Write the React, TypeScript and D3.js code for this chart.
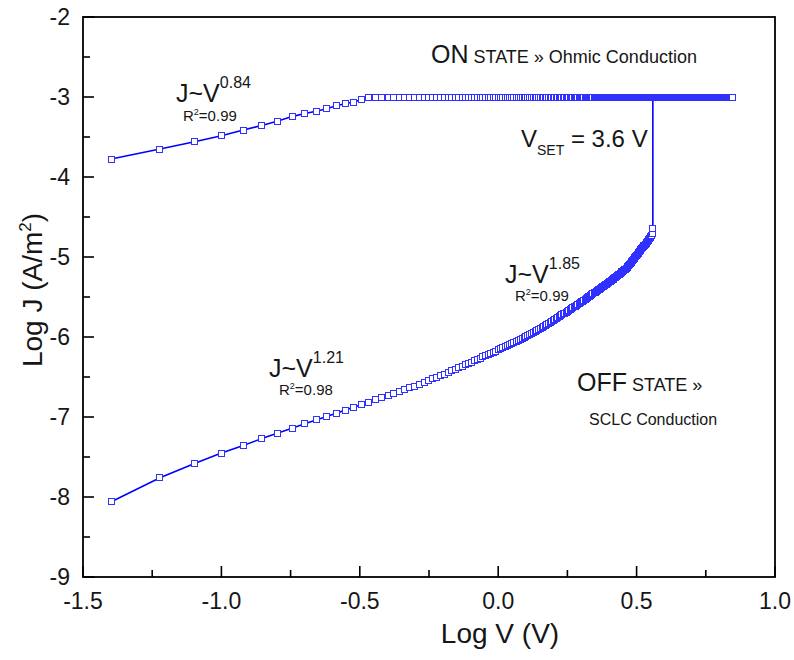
import React from "react";
import * as d3 from "d3";

// Voltage sweep (V)
const sweepV = [
  0.04,0.06,0.08,0.10,0.12,0.14,0.16,0.18,0.20,0.22,0.24,0.26,0.28,0.30,0.32,0.34,0.36,0.38,0.40,0.42,0.44,0.46,0.48,0.50,0.52,0.54,0.56,0.58,0.60,0.62,0.64,0.66,0.68,0.70,0.72,0.74,0.76,0.78,0.80,0.82,0.84,0.86,0.88,0.90,0.92,0.94,0.96,0.98,
  1.00,1.02,1.04,1.06,1.08,1.10,1.12,1.14,1.16,1.18,1.20,1.22,1.24,1.26,1.28,1.30,1.32,1.34,1.36,1.38,1.40,1.42,1.44,1.46,1.48,1.50,1.52,1.54,1.56,1.58,1.60,1.62,1.64,1.66,1.68,1.70,1.72,1.74,1.76,1.78,1.80,1.82,1.84,1.86,1.88,1.90,1.92,1.94,1.96,1.98,
  2.00,2.02,2.04,2.06,2.08,2.10,2.12,2.14,2.16,2.18,2.20,2.22,2.24,2.26,2.28,2.30,2.32,2.34,2.36,2.38,2.40,2.42,2.44,2.46,2.48,2.50,2.52,2.54,2.56,2.58,2.60,2.62,2.64,2.66,2.68,2.70,2.72,2.74,2.76,2.78,2.80,2.82,2.84,2.86,2.88,2.90,2.92,2.94,2.96,2.98,
  3.00,3.02,3.04,3.06,3.08,3.10,3.12,3.14,3.16,3.18,3.20,3.22,3.24,3.26,3.28,3.30,3.32,3.34,3.36,3.38,3.40,3.42,3.44,3.46,3.48,3.50,3.52,3.54,3.56,3.58,3.60,3.62,3.64,3.66,3.68,3.70,3.72,3.74,3.76,3.78,3.80,3.82,3.84,3.86,3.88,3.90,3.92,3.94,3.96,3.98,
  4.00,4.02,4.04,4.06,4.08,4.10,4.12,4.14,4.16,4.18,4.20,4.22,4.24,4.26,4.28,4.30,4.32,4.34,4.36,4.38,4.40,4.42,4.44,4.46,4.48,4.50,4.52,4.54,4.56,4.58,4.60,4.62,4.64,4.66,4.68,4.70,4.72,4.74,4.76,4.78,4.80,4.82,4.84,4.86,4.88,4.90,4.92,4.94,4.96,4.98,
  5.00,5.02,5.04,5.06,5.08,5.10,5.12,5.14,5.16,5.18,5.20,5.22,5.24,5.26,5.28,5.30,5.32,5.34,5.36,5.38,5.40,5.42,5.44,5.46,5.48,5.50,5.52,5.54,5.56,5.58,5.60,5.62,5.64,5.66,5.68,5.70,5.72,5.74,5.76,5.78,5.80,5.82,5.84,5.86,5.88,5.90,5.92,5.94,5.96,5.98,
  6.00,6.02,6.04,6.06,6.08,6.10,6.12,6.14,6.16,6.18,6.20,6.22,6.24,6.26,6.28,6.30,6.32,6.34,6.36,6.38,6.40,6.42,6.44,6.46,6.48,6.50,6.52,6.54,6.56,6.58,6.60,6.62,6.64,6.66,6.68,6.70,6.72,6.74,6.76,6.78,6.80,6.82,6.84,6.86,6.88,6.90,6.92,6.94,6.96,6.98,
  7.00,
];

// OFF state: log J (A/m^2) for the sweep from 0.04 V to 3.62 V
const offLogJ = [
  -8.06,-7.76,-7.58,-7.45,-7.355,-7.27,-7.2,-7.14,-7.085,-7.037,-6.993,-6.952,-6.914,-6.879,-6.846,-6.815,-6.786,-6.759,
  -6.734,-6.708,-6.682,-6.658,-6.635,-6.613,
  -6.588,-6.565,-6.543,-6.522,-6.502,-6.482,-6.463,
  -6.443,-6.423,-6.403,-6.384,-6.366,-6.348,-6.33,-6.313,-6.296,-6.28,-6.264,
  -6.248,-6.233,-6.218,-6.204,-6.189,-6.175,-6.162,-6.148,-6.135,-6.122,-6.11,-6.097,-6.085,
  -6.072,-6.058,-6.044,-6.03,-6.016,-6.003,-5.99,-5.977,-5.964,-5.951,-5.939,-5.927,-5.915,-5.903,-5.891,-5.88,-5.868,-5.857,
  -5.845,-5.832,-5.819,-5.806,-5.794,-5.782,-5.769,-5.758,-5.746,-5.734,-5.722,-5.711,-5.7,-5.688,-5.677,-5.666,-5.656,-5.645,-5.634,-5.624,-5.614,-5.603,-5.593,-5.583,
  -5.573,-5.562,-5.551,-5.541,-5.53,-5.52,-5.509,-5.499,-5.489,-5.479,-5.469,-5.459,-5.449,-5.44,-5.43,-5.42,-5.411,-5.402,-5.392,-5.383,-5.374,-5.365,-5.356,-5.347,-5.338,-5.329,-5.321,-5.312,-5.304,-5.295,-5.287,
  -5.278,-5.269,-5.26,-5.25,-5.241,-5.232,-5.222,-5.213,-5.205,-5.196,-5.187,-5.178,-5.169,-5.16,-5.152,
  -5.14,-5.127,-5.114,-5.101,-5.089,-5.076,-5.063,-5.051,-5.039,-5.026,-5.014,-5.002,-4.99,-4.978,-4.966,-4.955,-4.943,-4.931,
  -4.919,-4.907,-4.896,-4.884,-4.873,-4.861,-4.85,-4.838,-4.827,-4.816,-4.805,-4.794,-4.783,-4.772,-4.76,-4.745,-4.725,-4.7,-4.64,
];

// ON state: log J (A/m^2) for the sweep from 0.04 V to 7.00 V
const onLogJ = [
  -3.775,-3.65,-3.56,-3.484,-3.413,-3.355,-3.3,-3.245,-3.206,-3.178,-3.146,-3.11,-3.084,-3.063,-3.034,-3.003,
  -3,-3,-3,-3,-3,-3,-3,-3,-3,-3,-3,-3,-3,-3,-3,-3,-3,-3,-3,-3,-3,-3,-3,-3,-3,
  -3,-3,-3,-3,-3,-3,-3,-3,-3,-3,-3,-3,-3,-3,-3,-3,-3,-3,-3,-3,-3,-3,-3,-3,-3,
  -3,-3,-3,-3,-3,-3,-3,-3,-3,-3,-3,-3,-3,-3,-3,-3,-3,-3,-3,-3,-3,-3,-3,-3,-3,
  -3,-3,-3,-3,-3,-3,-3,-3,-3,-3,-3,-3,-3,-3,-3,-3,-3,-3,-3,-3,-3,-3,-3,-3,-3,
  -3,-3,-3,-3,-3,-3,-3,-3,-3,-3,-3,-3,-3,-3,-3,-3,-3,-3,-3,-3,-3,-3,-3,-3,-3,
  -3,-3,-3,-3,-3,-3,-3,-3,-3,-3,-3,-3,-3,-3,-3,-3,-3,-3,-3,-3,-3,-3,-3,-3,-3,
  -3,-3,-3,-3,-3,-3,-3,-3,-3,-3,-3,-3,-3,-3,-3,-3,-3,-3,-3,-3,-3,-3,-3,-3,-3,
  -3,-3,-3,-3,-3,-3,-3,-3,-3,-3,-3,-3,-3,-3,-3,-3,-3,-3,-3,-3,-3,-3,-3,-3,-3,
  -3,-3,-3,-3,-3,-3,-3,-3,-3,-3,-3,-3,-3,-3,-3,-3,-3,-3,-3,-3,-3,-3,-3,-3,-3,
  -3,-3,-3,-3,-3,-3,-3,-3,-3,-3,-3,-3,-3,-3,-3,-3,-3,-3,-3,-3,-3,-3,-3,-3,-3,
  -3,-3,-3,-3,-3,-3,-3,-3,-3,-3,-3,-3,-3,-3,-3,-3,-3,-3,-3,-3,-3,-3,-3,-3,-3,
  -3,-3,-3,-3,-3,-3,-3,-3,-3,-3,-3,-3,-3,-3,-3,-3,-3,-3,-3,-3,-3,-3,-3,-3,-3,
  -3,-3,-3,-3,-3,-3,-3,-3,-3,-3,-3,-3,-3,-3,-3,-3,-3,-3,-3,-3,-3,-3,-3,-3,-3,
  -3,-3,-3,-3,-3,-3,-3,-3,-3,-3,
];

// SET transition (vertical jump at V_SET)
const setV = [3.62, 3.62];
const setLogJ = [-4.64, -3.0];

const xTickValues = [-1.5, -1.0, -0.5, 0.0, 0.5, 1.0];
const xTickLabels = ["-1.5", "-1.0", "-0.5", "0.0", "0.5", "1.0"];
const xMinorValues = [-1.25, -0.75, -0.25, 0.25, 0.75];
const yTickValues = [-9, -8, -7, -6, -5, -4, -3, -2];
const yTickLabels = ["-9", "-8", "-7", "-6", "-5", "-4", "-3", "-2"];
const yMinorValues = [-8.5, -7.5, -6.5, -5.5, -4.5, -3.5, -2.5];

const FONT = "'Liberation Sans', Arial, Helvetica, sans-serif";
const BLUE = "#0000ff";
const MARK = "#3030ff";
const TXT = "#161616";

export default function App() {
  const W = 794, H = 660;
  const left = 83, right = 775, top = 17, bottom = 577;
  const x = d3.scaleLinear().domain([-1.5, 1.0]).range([left, right]);
  const y = d3.scaleLinear().domain([-9, -2]).range([bottom, top]);

  const offPts: [number, number][] = offLogJ.map((j, i) => [Math.log10(sweepV[i]), j]);
  const n = Math.min(onLogJ.length, sweepV.length);
  const onPts: [number, number][] = onLogJ.slice(0, n).map((j, i) => [Math.log10(sweepV[i]), j]);
  const setPts: [number, number][] = setV.map((v, i) => [Math.log10(v), setLogJ[i]]);

  const line = d3.line<[number, number]>().x(d => x(d[0])).y(d => y(d[1]));
  const ms = 6;

  const markers = (pts: [number, number][], key: string) =>
    pts.map((d, i) => (
      <rect
        key={key + i}
        x={x(d[0]) - ms / 2}
        y={y(d[1]) - ms / 2}
        width={ms}
        height={ms}
        fill="#ffffff"
        stroke={MARK}
        strokeWidth={1}
        shapeRendering="crispEdges"
      />
    ));

  return (
    <div style={{ position: "fixed", left: 0, top: 0 }}>
      <svg width={W} height={H} style={{ display: "block", background: "#fff" }} fontFamily={FONT}>
        <rect x={0} y={0} width={W} height={H} fill="#fff" />
        {/* data lines */}
        <path d={line(offPts) || ""} fill="none" stroke={BLUE} strokeWidth={1.6} />
        <path d={line(setPts) || ""} fill="none" stroke={BLUE} strokeWidth={1.6} />
        <path d={line(onPts) || ""} fill="none" stroke={BLUE} strokeWidth={1.6} />
        {markers(offPts, "off")}
        {markers(onPts, "on")}

        {/* frame */}
        <rect x={left} y={top} width={right - left} height={bottom - top} fill="none" stroke="#000" strokeWidth={1.8} />

        {/* x ticks */}
        {xTickValues.map((v, i) => (
          <g key={"xt" + i}>
            <line x1={x(v)} x2={x(v)} y1={bottom} y2={bottom - 11} stroke="#000" strokeWidth={1.6} />
            <text x={x(v)} y={609} textAnchor="middle" fontSize={23} fill={TXT}>{xTickLabels[i]}</text>
          </g>
        ))}
        {xMinorValues.map((v, i) => (
          <line key={"xm" + i} x1={x(v)} x2={x(v)} y1={bottom} y2={bottom - 7} stroke="#000" strokeWidth={1.6} />
        ))}
        {/* y ticks */}
        {yTickValues.map((v, i) => (
          <g key={"yt" + i}>
            <line x1={left} x2={left + 11} y1={y(v)} y2={y(v)} stroke="#000" strokeWidth={1.6} />
            <text x={70} y={y(v) + 8} textAnchor="end" fontSize={23} fill={TXT}>{yTickLabels[i]}</text>
          </g>
        ))}
        {yMinorValues.map((v, i) => (
          <line key={"ym" + i} x1={left} x2={left + 7} y1={y(v)} y2={y(v)} stroke="#000" strokeWidth={1.6} />
        ))}

        {/* axis titles */}
        <text x={500} y={643} textAnchor="middle" fontSize={28} fill={TXT}>Log V (V)</text>
        <text transform={`translate(42, 290) rotate(-90)`} textAnchor="middle" fontSize={28} fill={TXT}>
          Log J (A/m<tspan dy={-11} fontSize={17}>2</tspan><tspan dy={11}>)</tspan>
        </text>

        {/* annotations */}
        <text x={431} y={63} fontSize={25} fill={TXT}>
          ON<tspan fontSize={18}> STATE » Ohmic Conduction</tspan>
        </text>
        <text x={521} y={147} fontSize={24} fill={TXT}>
          V<tspan dy={8} fontSize={14}>SET</tspan><tspan dy={-8}> = 3.6 V</tspan>
        </text>

        <text x={176} y={102} fontSize={25} fill={TXT}>
          J~V<tspan dy={-14} fontSize={16}>0.84</tspan>
        </text>
        <text x={183} y={121} fontSize={15} fill={TXT}>
          R<tspan dy={-6} fontSize={9}>2</tspan><tspan dy={6}>=0.99</tspan>
        </text>

        <text x={269} y={377} fontSize={25} fill={TXT}>
          J~V<tspan dy={-14} fontSize={16}>1.21</tspan>
        </text>
        <text x={279} y={395} fontSize={15} fill={TXT}>
          R<tspan dy={-6} fontSize={9}>2</tspan><tspan dy={6}>=0.98</tspan>
        </text>

        <text x={505} y={283} fontSize={25} fill={TXT}>
          J~V<tspan dy={-14} fontSize={16}>1.85</tspan>
        </text>
        <text x={515} y={301} fontSize={15} fill={TXT}>
          R<tspan dy={-6} fontSize={9}>2</tspan><tspan dy={6}>=0.99</tspan>
        </text>

        <text x={577} y={391} fontSize={25} fill={TXT}>
          OFF<tspan fontSize={18}> STATE »</tspan>
        </text>
        <text x={589} y={425} fontSize={16} fill={TXT}>SCLC Conduction</text>
      </svg>
    </div>
  );
}
